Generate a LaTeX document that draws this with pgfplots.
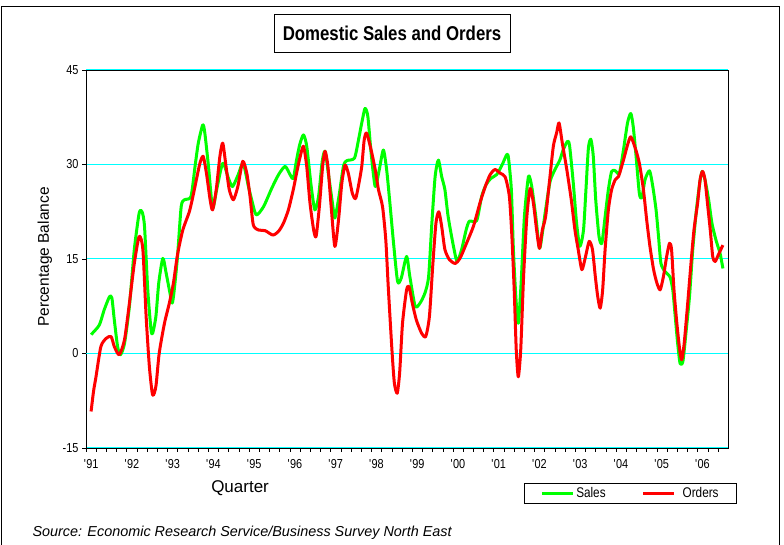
\documentclass[border=0pt]{standalone}
\usepackage{fontspec}
\setmainfont{Liberation Sans}
\newfontfamily\narrowfont{Liberation Sans}[FakeStretch=0.84]
\usepackage{pgfplots}
\usepackage{pgfplotstable}
\pgfplotsset{compat=1.18}

\definecolor{salesgreen}{RGB}{0,255,0}
\definecolor{ordersred}{RGB}{255,0,0}
\definecolor{gridcyan}{RGB}{0,255,255}
\newcommand{\yr}[1]{\textquotesingle#1}

% Sales balance
\pgfplotstableread{
year value
1991.00 3.0
1991.20 4.5
1991.32 6.9
1991.45 9.0
1991.51 8.8
1991.57 5.3
1991.65 1.1
1991.72 -0.2
1991.82 1.6
1991.94 7.5
1992.06 16.5
1992.18 22.3
1992.25 22.5
1992.31 20.2
1992.39 10.1
1992.47 3.8
1992.51 3.2
1992.59 5.9
1992.66 11.2
1992.76 15.1
1992.84 12.8
1992.92 10.1
1992.99 8.0
1993.04 10.1
1993.12 15.4
1993.21 23.3
1993.29 24.4
1993.45 24.9
1993.55 29.7
1993.63 33.4
1993.74 36.3
1993.79 35.0
1993.88 29.7
1993.98 23.1
1994.08 26.0
1994.23 30.2
1994.37 27.8
1994.47 26.5
1994.61 28.4
1994.73 30.2
1994.86 26.5
1994.94 24.4
1995.05 22.0
1995.23 23.3
1995.43 26.2
1995.60 28.4
1995.76 29.7
1995.88 28.4
1995.96 27.8
1996.04 30.7
1996.12 33.2
1996.21 34.7
1996.29 32.9
1996.40 26.5
1996.49 22.8
1996.58 24.9
1996.67 30.5
1996.74 32.1
1996.82 28.6
1996.92 23.9
1996.98 21.5
1997.08 24.9
1997.19 29.7
1997.27 30.6
1997.46 31.0
1997.56 33.9
1997.64 36.6
1997.72 38.9
1997.79 37.6
1997.87 31.8
1997.97 26.5
1998.07 29.2
1998.17 32.3
1998.25 29.2
1998.33 23.9
1998.42 17.5
1998.52 11.4
1998.61 12.0
1998.74 15.4
1998.82 12.2
1998.95 7.5
1999.07 8.0
1999.19 9.6
1999.28 12.2
1999.36 20.7
1999.44 28.1
1999.52 30.7
1999.60 28.1
1999.68 26.0
1999.76 21.7
1999.89 17.0
1999.98 14.6
2000.09 16.5
2000.20 19.6
2000.28 21.0
2000.46 21.1
2000.58 24.9
2000.69 26.8
2000.81 27.8
2000.95 28.4
2001.08 29.9
2001.20 31.6
2001.24 31.0
2001.31 26.0
2001.36 16.5
2001.42 9.0
2001.48 4.8
2001.55 11.2
2001.63 21.7
2001.73 28.1
2001.81 26.5
2001.91 21.7
2002.00 16.7
2002.07 19.1
2002.15 22.8
2002.26 27.3
2002.38 29.2
2002.50 30.7
2002.58 32.3
2002.69 33.7
2002.74 32.9
2002.83 27.0
2002.91 20.7
2002.99 17.0
2003.08 19.6
2003.14 26.0
2003.20 32.6
2003.26 34.0
2003.32 31.3
2003.38 24.4
2003.46 18.6
2003.53 17.5
2003.61 21.7
2003.69 26.0
2003.77 28.9
2003.86 29.0
2003.96 28.6
2004.06 32.3
2004.16 36.6
2004.24 38.1
2004.30 36.0
2004.37 31.3
2004.45 25.4
2004.51 24.7
2004.59 27.6
2004.70 29.0
2004.78 26.5
2004.86 22.8
2004.92 18.6
2004.98 14.3
2005.08 13.0
2005.20 12.2
2005.27 10.1
2005.33 5.9
2005.39 1.6
2005.45 -1.6
2005.52 -1.2
2005.60 3.7
2005.68 9.0
2005.76 16.5
2005.85 22.8
2005.93 27.0
2005.99 28.9
2006.06 27.6
2006.15 24.4
2006.23 20.7
2006.33 18.0
2006.43 15.9
2006.50 13.5
}\salesdata

% Orders balance
\pgfplotstableread{
year value
1991.00 -9.2
1991.06 -6.0
1991.12 -3.7
1991.24 1.1
1991.37 2.4
1991.49 2.7
1991.57 1.1
1991.69 -0.2
1991.82 2.2
1991.94 8.0
1992.06 14.3
1992.18 18.6
1992.27 16.5
1992.35 5.9
1992.43 -2.1
1992.51 -6.6
1992.59 -5.2
1992.67 0.0
1992.80 4.8
1992.92 8.0
1993.02 11.2
1993.12 15.7
1993.25 19.6
1993.41 22.5
1993.50 25.0
1993.58 27.5
1993.67 30.2
1993.75 31.3
1993.83 28.6
1993.92 24.4
1993.98 22.8
1994.07 26.0
1994.16 31.3
1994.23 33.4
1994.31 29.7
1994.39 26.0
1994.49 24.4
1994.60 26.5
1994.72 30.5
1994.82 28.6
1994.90 24.9
1994.98 20.4
1995.11 19.6
1995.27 19.5
1995.46 18.8
1995.60 19.4
1995.72 20.7
1995.84 22.8
1995.96 26.0
1996.04 28.6
1996.12 31.0
1996.21 32.9
1996.29 29.7
1996.37 23.9
1996.46 19.6
1996.52 18.6
1996.60 23.3
1996.68 29.7
1996.74 32.1
1996.81 29.7
1996.89 23.3
1996.98 17.0
1997.07 21.2
1997.15 27.0
1997.23 29.9
1997.31 28.6
1997.41 25.4
1997.49 24.6
1997.57 27.0
1997.64 29.7
1997.70 33.9
1997.76 35.0
1997.87 32.3
1997.97 29.2
1998.05 26.0
1998.15 23.3
1998.23 18.0
1998.29 10.6
1998.38 0.6
1998.44 -4.7
1998.51 -6.3
1998.57 -3.0
1998.64 4.8
1998.74 10.1
1998.80 10.6
1998.88 8.0
1998.98 5.3
1999.11 3.2
1999.21 2.7
1999.30 5.9
1999.38 13.8
1999.46 20.7
1999.53 22.5
1999.60 20.2
1999.68 16.5
1999.79 14.9
1999.93 14.3
2000.05 15.1
2000.21 17.5
2000.38 20.2
2000.54 23.9
2000.67 26.5
2000.79 28.4
2000.91 29.2
2001.04 28.6
2001.16 28.0
2001.26 25.0
2001.32 19.0
2001.38 10.1
2001.43 0.6
2001.48 -3.7
2001.54 0.6
2001.61 12.2
2001.69 21.7
2001.77 26.2
2001.85 23.9
2001.93 19.6
2002.00 16.7
2002.07 19.6
2002.15 21.7
2002.24 27.0
2002.34 32.9
2002.42 35.0
2002.48 36.6
2002.56 33.4
2002.67 29.2
2002.78 24.4
2002.87 19.6
2002.95 16.5
2003.04 13.3
2003.13 15.4
2003.22 17.8
2003.30 16.5
2003.37 12.2
2003.43 9.0
2003.49 7.2
2003.55 10.1
2003.61 16.5
2003.69 22.8
2003.77 26.0
2003.86 27.6
2003.94 28.1
2004.06 30.7
2004.16 33.1
2004.24 34.4
2004.35 32.6
2004.45 30.2
2004.55 26.0
2004.63 21.2
2004.71 17.0
2004.80 13.3
2004.88 11.2
2004.96 10.1
2005.04 12.2
2005.12 15.4
2005.19 17.5
2005.24 16.5
2005.30 10.1
2005.37 4.8
2005.44 0.6
2005.49 -1.0
2005.55 1.6
2005.63 7.5
2005.71 13.8
2005.79 19.6
2005.88 23.9
2005.94 27.6
2006.00 28.9
2006.06 27.6
2006.13 23.3
2006.19 19.6
2006.25 15.4
2006.31 14.6
2006.39 15.7
2006.50 17.2
}\ordersdata

\begin{document}
\begin{tikzpicture}
\useasboundingbox (0pt,0pt) rectangle (784pt,545pt);
% outer frame
\draw[line width=0.8pt] (1.3pt,0pt) -- (1.3pt,538.3pt) -- (779pt,538.3pt) -- (779pt,0pt);
% title box
\node[draw, line width=0.8pt, minimum width=236pt, minimum height=38.5pt, inner sep=0pt,
      font=\narrowfont\bfseries\fontsize{20}{24}\selectfont] at (392pt,511.6pt) {Domestic Sales and Orders};

\begin{axis}[
    at={(86pt,97pt)}, anchor=south west,
    scale only axis, width=642pt, height=378pt,
    xmin=1990.875, xmax=2006.625,
    ymin=-15, ymax=45,
    axis line style={line width=0.8pt},
    tick align=outside,
    xtick pos=bottom, ytick pos=left,
    xtick={1991,...,2006},
    xticklabels={\yr{91},\yr{92},\yr{93},\yr{94},\yr{95},\yr{96},\yr{97},\yr{98},\yr{99},\yr{00},\yr{01},\yr{02},\yr{03},\yr{04},\yr{05},\yr{06}},
    major x tick style={draw=none},
    minor xtick={1990.875,1991.125,...,2006.7},
    minor tick length=4pt,
    minor x tick style={line width=0.6pt, black},
    ytick={-15,0,15,30,45},
    major tick length=4pt,
    major y tick style={line width=0.6pt, black},
    ymajorgrids,
    major grid style={draw=gridcyan, line width=1pt},
    /pgf/number format/assume math mode=true,
    tick label style={font=\narrowfont\fontsize{13}{15}\selectfont},
    xticklabel style={yshift=-4pt},
    ylabel={Percentage Balance},
    ylabel style={font=\fontsize{15.5}{18}\selectfont, at={(axis description cs:-0.064,0.505)}, anchor=center},
    xlabel={Quarter},
    xlabel style={font=\fontsize{17}{20}\selectfont, at={(axis description cs:0.24,-0.106)}, anchor=center},
    legend style={at={(axis description cs:0.682,-0.0934)}, anchor=north west,
        draw=black, line width=0.8pt, legend columns=2,
        font=\narrowfont\fontsize{14}{16}\selectfont,
        inner xsep=16pt, inner ysep=2pt, nodes={inner sep=2pt},
        /tikz/every even column/.append style={column sep=34pt}},
    legend image code/.code={\draw[#1] (0pt,0pt) -- (31pt,0pt);},
]
% zero reference line, same cyan as the grid
\addplot[gridcyan, line width=1pt, forget plot] coordinates {(1990.875,0) (2006.625,0)};
\addplot[salesgreen, line width=3pt, smooth, tension=0.4, line join=round] table[x=year, y=value] {\salesdata};
\addlegendentry{Sales}
\addplot[ordersred, line width=3pt, smooth, tension=0.4, line join=round] table[x=year, y=value] {\ordersdata};
\addlegendentry{\hspace{5pt}Orders}
\end{axis}

\node[anchor=west, font=\itshape\fontsize{14.4}{17}\selectfont] at (29pt,12pt) {Source: Economic Research Service/Business Survey North East};
\end{tikzpicture}
\end{document}
